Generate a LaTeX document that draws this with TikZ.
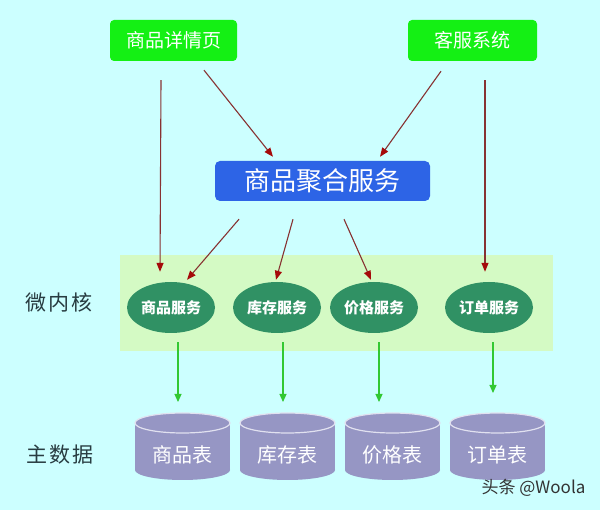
\documentclass[tikz,border=0pt]{standalone}
\usepackage{fontspec}
\setmainfont{Noto Sans CJK SC}
\newfontfamily\cjklab[LetterSpace=8]{Noto Sans CJK SC}
\usetikzlibrary{arrows.meta,shapes.geometric,calc}
\definecolor{bgc}{RGB}{204,255,255}
\definecolor{boxgreen}{RGB}{20,240,20}
\definecolor{boxblue}{RGB}{45,100,230}
\definecolor{regiongreen}{RGB}{212,250,196}
\definecolor{svcgreen}{RGB}{48,145,100}
\definecolor{cylc}{RGB}{150,150,196}
\definecolor{cyledge}{RGB}{225,225,240}
\definecolor{redarr}{RGB}{135,50,50}
\definecolor{redhead}{RGB}{165,10,10}
\definecolor{greenarr}{RGB}{50,200,50}
\definecolor{labc}{RGB}{40,60,65}
\begin{document}
\begin{tikzpicture}[x=1pt,y=-1pt,
  srcbox/.style={rectangle, rounded corners=4pt, fill=boxgreen, text=white,
    minimum height=41pt, inner sep=0pt, font=\fontsize{19}{22}\selectfont},
  aggbox/.style={rectangle, rounded corners=5pt, fill=boxblue, text=white,
    minimum width=215pt, minimum height=40pt, inner sep=0pt, font=\fontsize{26}{30}\selectfont},
  svc/.style={ellipse, fill=svcgreen, text=white, minimum width=88pt, minimum height=51pt,
    inner sep=0pt, font=\bfseries\fontsize{15}{18}\selectfont},
  cyltext/.style={text=white, inner sep=0pt, font=\fontsize{20}{24}\selectfont},
  sidelab/.style={text=labc, inner sep=0pt, font=\cjklab\fontsize{21}{24}\selectfont},
  redline/.style={draw=redarr, line width=1.1pt, -{Triangle[length=9pt,width=7pt,color=redhead]}},
  greenline/.style={draw=greenarr, line width=1.1pt, -{Triangle[length=8pt,width=7pt]}},
  cylfill/.style={fill=cylc}
]
\useasboundingbox (0,0) rectangle (600,510);
\fill[bgc] (0,0) rectangle (600,510);

% micro-kernel region
\node[rectangle, fill=regiongreen, minimum width=433pt, minimum height=96pt, inner sep=0pt] (region) at (336.5,303) {};

% source boxes
\node[srcbox, minimum width=127pt] (pd) at (173.5,40.5) {商品详情页};
\node[srcbox, minimum width=129pt] (kf) at (472.5,40.5) {客服系统};

% aggregation service
\node[aggbox] (agg) at (322.5,181) {商品聚合服务};

% services
\node[svc] (e1) at (171,307.5) {商品服务};
\node[svc] (e2) at (277,307.5) {库存服务};
\node[svc] (e3) at (374,307.5) {价格服务};
\node[svc] (e4) at (489,307.5) {订单服务};

% side labels
\node[sidelab] (lab1) at (59,303) {微内核};
\node[sidelab] (lab2) at (60,455) {主数据};

% cylinders
\foreach \n/\x/\t in {1/182.5/商品表, 2/287.5/库存表, 3/392.5/价格表, 4/497.5/订单表} {
  \fill[cylfill] (\x-47.5,423) rectangle (\x+47.5,470);
  \fill[cylfill] (\x,470) ellipse [x radius=47.5, y radius=10];
  \filldraw[cylfill, draw=cyledge, line width=1.2pt] (\x,423) ellipse [x radius=47.5, y radius=10];
  \node[cyltext] (t\n) at (\x,455) {\t};
}

% red connectors
\draw[redline] ([shift={(-12.5,19)}]pd.south) -- ([shift={(-11,-10)}]e1.north);
\draw[redline] ([shift={(30.5,9)}]pd.south) -- ([shift={(-49.5,-4)}]agg.north);
\draw[redline] ([shift={(-31.5,10)}]kf.south) -- ([shift={(57.5,-4)}]agg.north);
\draw[redline] ([shift={(12.5,19)}]kf.south) -- ([shift={(-4,-10)}]e4.north);
\draw[redline] ([shift={(-83.5,18)}]agg.south) -- ([shift={(16,-2)}]e1.north);
\draw[redline] ([shift={(-29.5,18)}]agg.south) -- ([shift={(-1,-2)}]e2.north);
\draw[redline] ([shift={(21.5,18)}]agg.south) -- ([shift={(-3,-2)}]e3.north);

% green connectors
\draw[greenline] ([shift={(7,9)}]e1.south) -- ([shift={(-4.5,-53)}]t1.center);
\draw[greenline] ([shift={(6,9)}]e2.south) -- ([shift={(-4.5,-53)}]t2.center);
\draw[greenline] ([shift={(5,9)}]e3.south) -- ([shift={(-13.5,-53)}]t3.center);
\draw[greenline] ([shift={(4,9)}]e4.south) -- ([shift={(-4.5,-62)}]t4.center);

% watermark
\node[text=black!80, inner sep=0pt, font=\fontsize{17}{19}\selectfont] (wm) at (533.5,488) {头条 @Woola};
\end{tikzpicture}
\end{document}
